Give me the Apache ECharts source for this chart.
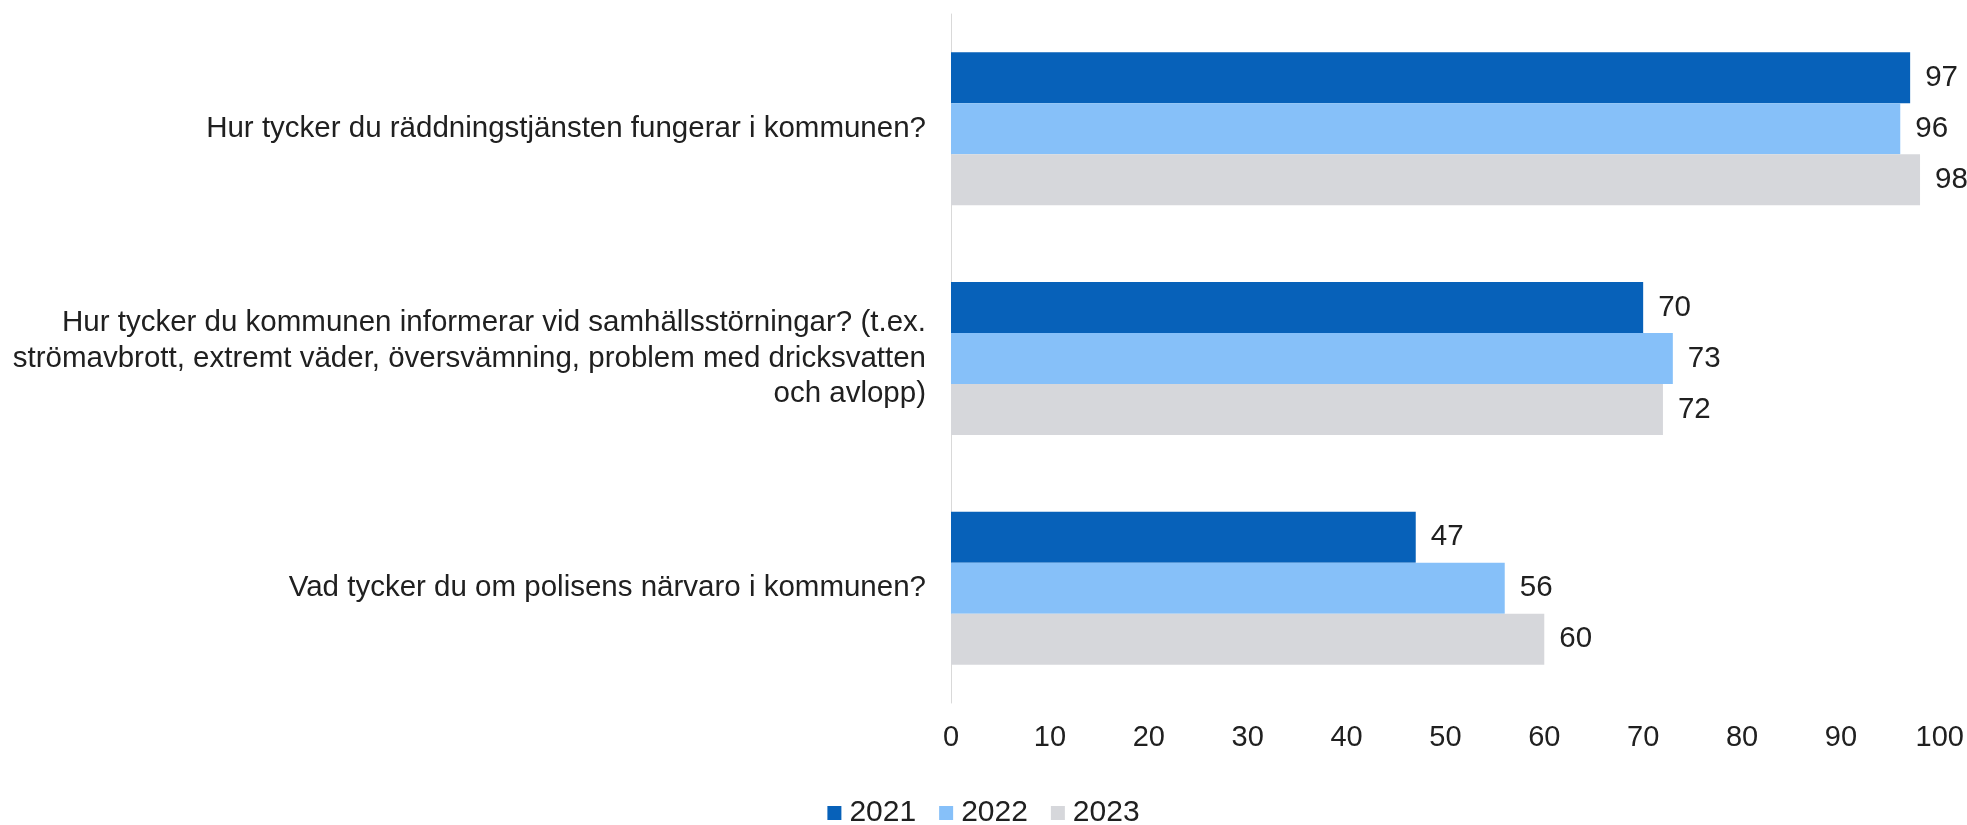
<!DOCTYPE html>
<html>
<head>
<meta charset="utf-8">
<script src="https://cdn.jsdelivr.net/npm/echarts@6/dist/echarts.min.js"></script>
<style>
  html, body { margin: 0; padding: 0; background: #fff; }
  #chart { width: 1967px; height: 825px; }
</style>
</head>
<body>
<div id="chart"></div>
<script>
const questions = [
  'Hur tycker du räddningstjänsten fungerar i kommunen?',
  'Hur tycker du kommunen informerar vid samhällsstörningar? (t.ex.\nströmavbrott, extremt väder, översvämning, problem med dricksvatten\noch avlopp)',
  'Vad tycker du om polisens närvaro i kommunen?'
]
const years = ['2021', '2022', '2023']
const values2021 = [97, 70, 47]
const values2022 = [96, 73, 56]
const values2023 = [98, 72, 60]
const colors = ['#0761B9', '#86C0F9', '#D6D7DB']

const textColor = '#202020'
const font = 'Liberation Sans, Arial, sans-serif'

const chart = echarts.init(document.getElementById('chart'))

const makeSeries = (name, data, color) => ({
  name,
  type: 'bar',
  data,
  barGap: '0%',
  barCategoryGap: '33.4%',
  itemStyle: { color },
  label: {
    show: true,
    position: 'right',
    distance: 15,
    fontSize: 29.5,
    fontFamily: font,
    color: textColor
  }
})

const option = {
  animation: false,
  textStyle: { fontFamily: font },
  grid: {
    left: 951,
    right: 27,
    top: 14,
    bottom: 122
  },
  legend: {
    data: years,
    top: 798,
    left: 'center',
    itemWidth: 14,
    itemHeight: 14,
    itemGap: 23,
    icon: 'rect',
    padding: 0,
    textStyle: { fontSize: 30, fontFamily: font, color: textColor, padding: [0, 0, 0, 3] }
  },
  xAxis: {
    type: 'value',
    min: 0,
    max: 100,
    interval: 10,
    axisLine: { show: false },
    axisTick: { show: false },
    splitLine: { show: false },
    axisLabel: { fontSize: 29, fontFamily: font, color: textColor, margin: 20 }
  },
  yAxis: {
    type: 'category',
    data: questions,
    inverse: true,
    axisLine: { show: true, lineStyle: { color: '#D9D9D9', width: 1 } },
    axisTick: { show: false },
    axisLabel: {
      fontSize: 29.5,
      fontFamily: font,
      color: textColor,
      margin: 25,
      lineHeight: 35.5,
      align: 'right'
    }
  },
  series: [
    makeSeries(years[0], values2021, colors[0]),
    makeSeries(years[1], values2022, colors[1]),
    makeSeries(years[2], values2023, colors[2])
  ]
}

chart.setOption(option)
</script>
</body>
</html>
